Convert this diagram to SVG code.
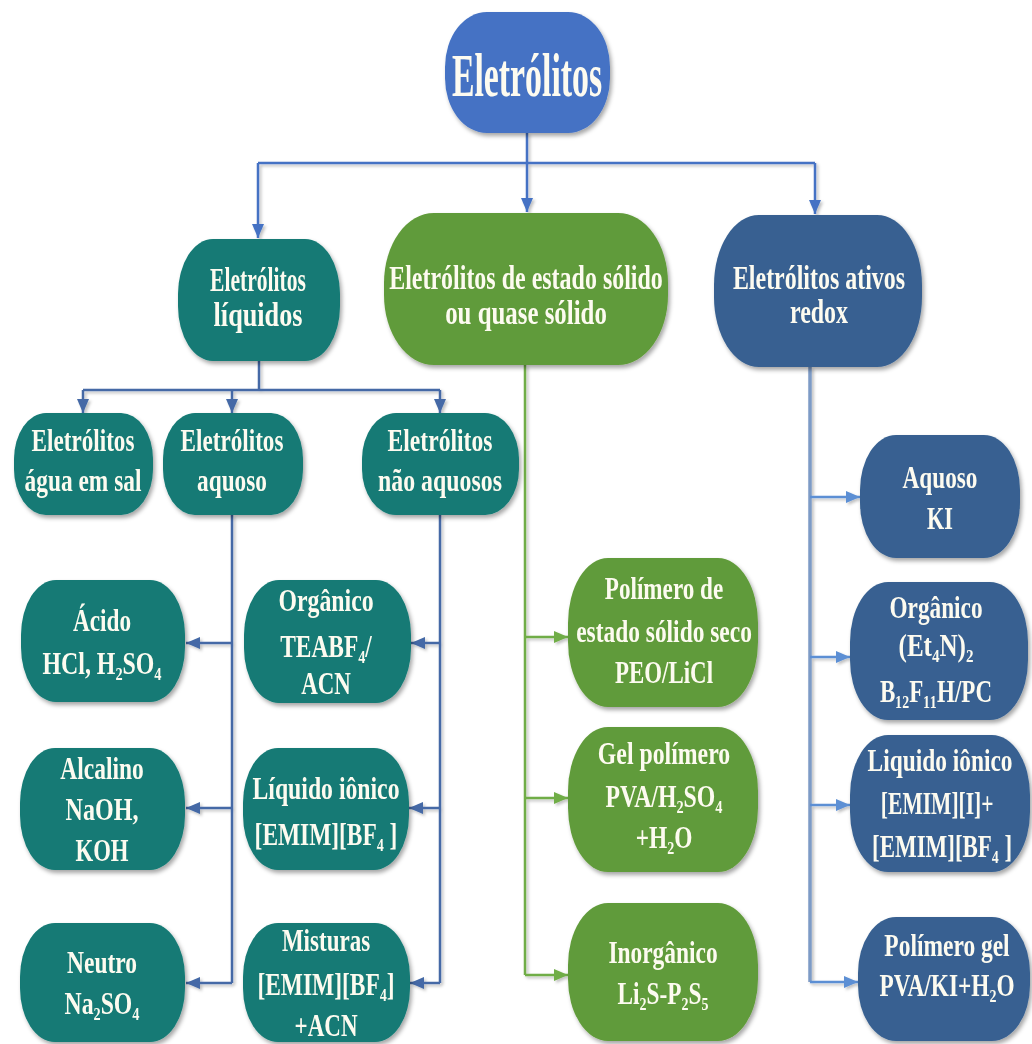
<svg xmlns="http://www.w3.org/2000/svg" width="1032" height="1044" viewBox="0 0 1032 1044">
<defs>
<filter id="sh" x="-10%" y="-10%" width="125%" height="130%">
<feDropShadow dx="2" dy="3" stdDeviation="2.2" flood-color="#000" flood-opacity="0.35"/>
</filter>
<filter id="lsh" x="-50%" y="-5%" width="300%" height="110%">
<feDropShadow dx="2" dy="2" stdDeviation="1.5" flood-color="#000" flood-opacity="0.25"/>
</filter>
<marker id="aBlue" viewBox="0 0 14 12" refX="14" refY="6" markerWidth="14" markerHeight="12" markerUnits="userSpaceOnUse" orient="auto"><path d="M0,0 L14,6 L0,12 z" fill="#4472c4"/></marker>
<marker id="aDark" viewBox="0 0 14 12" refX="14" refY="6" markerWidth="14" markerHeight="12" markerUnits="userSpaceOnUse" orient="auto"><path d="M0,0 L14,6 L0,12 z" fill="#4469a6"/></marker>
<marker id="aGreen" viewBox="0 0 14 12" refX="14" refY="6" markerWidth="14" markerHeight="12" markerUnits="userSpaceOnUse" orient="auto"><path d="M0,0 L14,6 L0,12 z" fill="#70ad47"/></marker>
<marker id="aLight" viewBox="0 0 14 12" refX="14" refY="6" markerWidth="14" markerHeight="12" markerUnits="userSpaceOnUse" orient="auto"><path d="M0,0 L14,6 L0,12 z" fill="#5b8fd4"/></marker>
</defs>
<style>
.c{fill:none;stroke-linejoin:miter}
.cb{stroke:#4472c4;stroke-width:2.5}
.cd{stroke:#4469a6;stroke-width:2.5}
.cg{stroke:#70ad47;stroke-width:2.5}
.cl{stroke:#7d9bc6;stroke-width:3.5}
.cla{stroke:#5b8fd4;stroke-width:2.5}
.n{filter:url(#sh)}
.root{fill:#4472c4}
.teal{fill:#137a74}
.green{fill:#619b3a}
.navy{fill:#386191}
text{font-family:"Liberation Serif","Times New Roman",serif;font-weight:bold;fill:#fdfbf0;text-anchor:middle}
.t0{font-size:62px}
.t1{font-size:33px}
.t2{font-size:31px}
.t3{font-size:32px}
</style>
<rect width="1032" height="1044" fill="#ffffff"/>

<g id="connectors">
<g filter="url(#lsh)">
<path class="c cb" d="M527,133 V163 M258,163 H815"/>
<path class="c cb" d="M258,163 V238" marker-end="url(#aBlue)"/>
<path class="c cb" d="M527,163 V212" marker-end="url(#aBlue)"/>
<path class="c cb" d="M815,163 V214" marker-end="url(#aBlue)"/>

<path class="c cd" d="M259,361 V390 M83,390 H440"/>
<path class="c cd" d="M83,390 V413" marker-end="url(#aDark)"/>
<path class="c cd" d="M232,390 V413" marker-end="url(#aDark)"/>
<path class="c cd" d="M440,390 V413" marker-end="url(#aDark)"/>

<path class="c cd" d="M232,515 V983"/>
<path class="c cd" d="M232,643 H186" marker-end="url(#aDark)"/>
<path class="c cd" d="M232,808 H186" marker-end="url(#aDark)"/>
<path class="c cd" d="M232,983 H186" marker-end="url(#aDark)"/>

<path class="c cd" d="M440,515 V983"/>
<path class="c cd" d="M440,643 H411" marker-end="url(#aDark)"/>
<path class="c cd" d="M440,808 H409" marker-end="url(#aDark)"/>
<path class="c cd" d="M440,983 H410" marker-end="url(#aDark)"/>

<path class="c cg" d="M525,365 V975"/>
<path class="c cg" d="M525,637 H568" marker-end="url(#aGreen)"/>
<path class="c cg" d="M525,798 H568" marker-end="url(#aGreen)"/>
<path class="c cg" d="M525,975 H568" marker-end="url(#aGreen)"/>

<path class="c cl" d="M810,367 V982"/>
<path class="c cla" d="M810,497 H860" marker-end="url(#aLight)"/>
<path class="c cla" d="M810,657 H850" marker-end="url(#aLight)"/>
<path class="c cla" d="M810,805 H850" marker-end="url(#aLight)"/>
<path class="c cla" d="M810,982 H858" marker-end="url(#aLight)"/>
</g>
</g>

<g id="n-root" class="n">
<rect class="root" x="445" y="12" width="165" height="121" rx="42" ry="55"/>
<g transform="translate(527 0) scale(0.55 1)">
<text class="t0" x="0" y="96" textLength="273" lengthAdjust="spacingAndGlyphs">Eletrólitos</text>
</g>
</g>

<g id="n-liquidos" class="n">
<rect class="teal" x="178" y="239" width="162" height="122" rx="35" ry="55"/>
<g transform="translate(258 0) scale(0.7 1)">
<text class="t1" x="0" y="291" textLength="137" lengthAdjust="spacingAndGlyphs">Eletrólitos</text>
<text class="t1" x="0" y="326" textLength="127" lengthAdjust="spacingAndGlyphs">líquidos</text>
</g>
</g>

<g id="n-solido" class="n">
<rect class="green" x="384" y="213" width="284" height="152" rx="50" ry="70"/>
<g transform="translate(526 0) scale(0.7 1)">
<text class="t1" x="0" y="289" textLength="391" lengthAdjust="spacingAndGlyphs">Eletrólitos de estado sólido</text>
<text class="t1" x="0" y="324" textLength="231" lengthAdjust="spacingAndGlyphs">ou quase sólido</text>
</g>
</g>

<g id="n-redox" class="n">
<rect class="navy" x="714" y="215" width="208" height="152" rx="45" ry="70"/>
<g transform="translate(819 0) scale(0.7 1)">
<text class="t1" x="0" y="289" textLength="246" lengthAdjust="spacingAndGlyphs">Eletrólitos ativos</text>
<text class="t1" x="0" y="323" textLength="83" lengthAdjust="spacingAndGlyphs">redox</text>
</g>
</g>

<g id="n-agua-sal" class="n">
<rect class="teal" x="14" y="413" width="139" height="102" rx="32" ry="46"/>
<g transform="translate(83 0) scale(0.7 1)">
<text class="t2" x="0" y="451" textLength="147" lengthAdjust="spacingAndGlyphs">Eletrólitos</text>
<text class="t2" x="0" y="491" textLength="167" lengthAdjust="spacingAndGlyphs">água em sal</text>
</g>
</g>

<g id="n-aquoso" class="n">
<rect class="teal" x="163" y="413" width="140" height="102" rx="32" ry="46"/>
<g transform="translate(232 0) scale(0.7 1)">
<text class="t2" x="0" y="451" textLength="147" lengthAdjust="spacingAndGlyphs">Eletrólitos</text>
<text class="t2" x="0" y="491" textLength="100" lengthAdjust="spacingAndGlyphs">aquoso</text>
</g>
</g>

<g id="n-nao-aquosos" class="n">
<rect class="teal" x="362" y="413" width="157" height="102" rx="34" ry="46"/>
<g transform="translate(440 0) scale(0.7 1)">
<text class="t2" x="0" y="451" textLength="150" lengthAdjust="spacingAndGlyphs">Eletrólitos</text>
<text class="t2" x="0" y="491" textLength="177" lengthAdjust="spacingAndGlyphs">não aquosos</text>
</g>
</g>

<g id="n-acido" class="n">
<rect class="teal" x="21" y="580" width="164" height="122" rx="35" ry="55"/>
<g transform="translate(102 0) scale(0.7 1)">
<text class="t3" x="0" y="631" textLength="83" lengthAdjust="spacingAndGlyphs">Ácido</text>
<text class="t3" x="0" y="674" textLength="170" lengthAdjust="spacingAndGlyphs">HCl, H₂SO₄</text>
</g>
</g>

<g id="n-alcalino" class="n">
<rect class="teal" x="20" y="748" width="165" height="122" rx="35" ry="55"/>
<g transform="translate(102 0) scale(0.7 1)">
<text class="t3" x="0" y="779" textLength="119" lengthAdjust="spacingAndGlyphs">Alcalino</text>
<text class="t3" x="0" y="820" textLength="104" lengthAdjust="spacingAndGlyphs">NaOH,</text>
<text class="t3" x="0" y="861" textLength="76" lengthAdjust="spacingAndGlyphs">KOH</text>
</g>
</g>

<g id="n-neutro" class="n">
<rect class="teal" x="20" y="923" width="165" height="119" rx="35" ry="54"/>
<g transform="translate(102 0) scale(0.7 1)">
<text class="t3" x="0" y="973" textLength="100" lengthAdjust="spacingAndGlyphs">Neutro</text>
<text class="t3" x="0" y="1014" textLength="107" lengthAdjust="spacingAndGlyphs">Na₂SO₄</text>
</g>
</g>

<g id="n-organico" class="n">
<rect class="teal" x="244" y="580" width="167" height="123" rx="35" ry="55"/>
<g transform="translate(326 0) scale(0.7 1)">
<text class="t3" x="0" y="611" textLength="136" lengthAdjust="spacingAndGlyphs">Orgânico</text>
<text class="t3" x="0" y="657" textLength="131" lengthAdjust="spacingAndGlyphs">TEABF₄/</text>
<text class="t3" x="0" y="694" textLength="71" lengthAdjust="spacingAndGlyphs">ACN</text>
</g>
</g>

<g id="n-liquido-ionico" class="n">
<rect class="teal" x="243" y="748" width="166" height="122" rx="35" ry="55"/>
<g transform="translate(326 0) scale(0.7 1)">
<text class="t3" x="0" y="799" textLength="210" lengthAdjust="spacingAndGlyphs">Líquido iônico</text>
<text class="t3" x="0" y="845" textLength="204" lengthAdjust="spacingAndGlyphs">[EMIM][BF₄ ]</text>
</g>
</g>

<g id="n-misturas" class="n">
<rect class="teal" x="243" y="923" width="167" height="119" rx="35" ry="54"/>
<g transform="translate(326 0) scale(0.7 1)">
<text class="t3" x="0" y="951" textLength="126" lengthAdjust="spacingAndGlyphs">Misturas</text>
<text class="t3" x="0" y="995" textLength="196" lengthAdjust="spacingAndGlyphs">[EMIM][BF₄]</text>
<text class="t3" x="0" y="1036" textLength="90" lengthAdjust="spacingAndGlyphs">+ACN</text>
</g>
</g>

<g id="n-peo" class="n">
<rect class="green" x="568" y="558" width="190" height="149" rx="40" ry="65"/>
<g transform="translate(664 0) scale(0.7 1)">
<text class="t3" x="0" y="599" textLength="169" lengthAdjust="spacingAndGlyphs">Polímero de</text>
<text class="t3" x="0" y="642" textLength="251" lengthAdjust="spacingAndGlyphs">estado sólido seco</text>
<text class="t3" x="0" y="683" textLength="140" lengthAdjust="spacingAndGlyphs">PEO/LiCl</text>
</g>
</g>

<g id="n-gel" class="n">
<rect class="green" x="568" y="727" width="190" height="145" rx="40" ry="64"/>
<g transform="translate(664 0) scale(0.7 1)">
<text class="t3" x="0" y="764" textLength="189" lengthAdjust="spacingAndGlyphs">Gel polímero</text>
<text class="t3" x="0" y="807" textLength="167" lengthAdjust="spacingAndGlyphs">PVA/H₂SO₄</text>
<text class="t3" x="0" y="848" textLength="81" lengthAdjust="spacingAndGlyphs">+H₂O</text>
</g>
</g>

<g id="n-inorganico" class="n">
<rect class="green" x="568" y="903" width="190" height="138" rx="40" ry="62"/>
<g transform="translate(663 0) scale(0.7 1)">
<text class="t3" x="0" y="963" textLength="156" lengthAdjust="spacingAndGlyphs">Inorgânico</text>
<text class="t3" x="0" y="1004" textLength="130" lengthAdjust="spacingAndGlyphs">Li₂S-P₂S₅</text>
</g>
</g>

<g id="n-aquoso-ki" class="n">
<rect class="navy" x="860" y="435" width="160" height="123" rx="36" ry="55"/>
<g transform="translate(940 0) scale(0.7 1)">
<text class="t3" x="0" y="488" textLength="107" lengthAdjust="spacingAndGlyphs">Aquoso</text>
<text class="t3" x="0" y="529" textLength="37" lengthAdjust="spacingAndGlyphs">KI</text>
</g>
</g>

<g id="n-organico-redox" class="n">
<rect class="navy" x="850" y="582" width="178" height="138" rx="38" ry="60"/>
<g transform="translate(936 0) scale(0.7 1)">
<text class="t3" x="0" y="618" textLength="133" lengthAdjust="spacingAndGlyphs">Orgânico</text>
<text class="t3" x="0" y="656" textLength="107" lengthAdjust="spacingAndGlyphs">(Et₄N)₂</text>
<text class="t3" x="0" y="702" textLength="160" lengthAdjust="spacingAndGlyphs">B₁₂F₁₁H/PC</text>
</g>
</g>

<g id="n-liquido-ionico-redox" class="n">
<rect class="navy" x="850" y="735" width="180" height="137" rx="38" ry="60"/>
<g transform="translate(940 0) scale(0.7 1)">
<text class="t3" x="0" y="771" textLength="207" lengthAdjust="spacingAndGlyphs">Liquido iônico</text>
<text class="t3" x="-4" y="814" textLength="161" lengthAdjust="spacingAndGlyphs">[EMIM][I]+</text>
<text class="t3" x="3" y="857" textLength="200" lengthAdjust="spacingAndGlyphs">[EMIM][BF₄ ]</text>
</g>
</g>

<g id="n-polimero-gel" class="n">
<rect class="navy" x="858" y="917" width="172" height="124" rx="38" ry="56"/>
<g transform="translate(947 0) scale(0.7 1)">
<text class="t3" x="0" y="956" textLength="179" lengthAdjust="spacingAndGlyphs">Polímero gel</text>
<text class="t3" x="0" y="996" textLength="193" lengthAdjust="spacingAndGlyphs">PVA/KI+H₂O</text>
</g>
</g>
</svg>
